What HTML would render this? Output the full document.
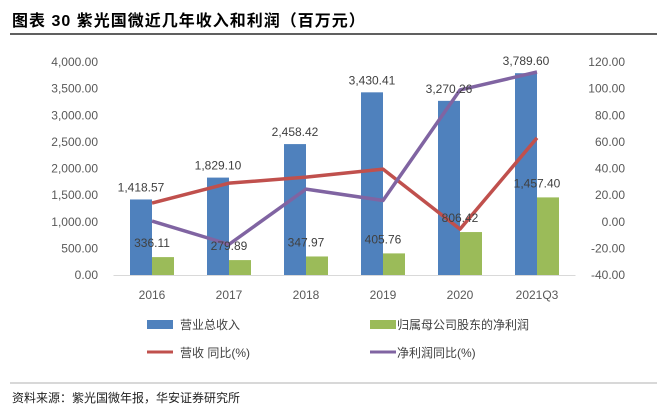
<!DOCTYPE html>
<html><head><meta charset="utf-8"><style>
body{margin:0;background:#fff;}
svg text{font-family:"Liberation Sans","Noto Sans CJK SC",sans-serif;}
</style></head><body>
<svg width="667" height="415" xmlns="http://www.w3.org/2000/svg" id="chart">
<text x="12" y="26" font-size="16" font-weight="bold" letter-spacing="1" fill="#000">图表 30  紫光国微近几年收入和利润（百万元）</text>
<line x1="10" y1="34" x2="657" y2="34" stroke="#000" stroke-width="1.2"/>
<g id="plot"></g>
<g>
<rect x="147" y="320" width="26" height="9" fill="#4f81bd"/>
<text x="180" y="329" font-size="12" fill="#404040">营业总收入</text>
<rect x="370" y="320" width="26" height="9" fill="#9bbb59"/>
<text x="397" y="329" font-size="12" fill="#404040">归属母公司股东的净利润</text>
<line x1="147" y1="352" x2="173" y2="352" stroke="#c0504d" stroke-width="3"/>
<text x="180" y="357" font-size="12" fill="#404040">营收 同比(%)</text>
<line x1="370" y1="352" x2="396" y2="352" stroke="#8064a2" stroke-width="3"/>
<text x="397" y="357" font-size="12" fill="#404040">净利润同比(%)</text>
</g>
<line x1="10" y1="383" x2="657" y2="383" stroke="#999" stroke-width="0.8"/>
<text x="12" y="402" font-size="12" fill="#222">资料来源：紫光国微年报，华安证券研究所</text>
</svg>
<script>
const categories=["2016","2017","2018","2019","2020","2021Q3"];
const revenue=[1418.57,1829.10,2458.42,3430.41,3270.26,3789.60];
const profit=[336.11,279.89,347.97,405.76,806.42,1457.40];
const revenueGrowth=[14,29,33.5,39.5,-5.5,63];
const profitGrowth=[0.5,-17,24.5,16,99,112.5];
const leftTicks=[0,500,1000,1500,2000,2500,3000,3500,4000];
const rightTicks=[-40,-20,0,20,40,60,80,100,120];

const NS="http://www.w3.org/2000/svg";
const g=document.getElementById('plot');
const X0=113.5,X1=575.5,YT=62,YB=275;
const step=(X1-X0)/categories.length;
const xc=i=>X0+step*(i+0.5);
const yL=v=>YB-(v-0)/4000*(YB-YT);
const yR=v=>YB-(v+40)/160*(YB-YT);
function mk(tag,attrs,text){const e=document.createElementNS(NS,tag);for(const k in attrs)e.setAttribute(k,attrs[k]);if(text!==undefined)e.textContent=text;g.appendChild(e);return e;}
const fmt=v=>v.toLocaleString('en-US',{minimumFractionDigits:2,maximumFractionDigits:2});

leftTicks.forEach(t=>{const e=mk('text',{x:98,y:yL(t)+4,'font-size':12,fill:'#595959','text-anchor':'end'},fmt(t));

});
rightTicks.forEach(t=>{const e=mk('text',{x:625,y:yR(t)+4,'font-size':12,fill:'#595959','text-anchor':'end'},t.toFixed(2));

});

const bw=22;
categories.forEach((c,i)=>{
  const cx=xc(i);
  const b=mk('rect',{x:cx-bw,y:yL(revenue[i]),width:bw,height:YB-yL(revenue[i]),fill:'#4f81bd'});
  
  
  const p=mk('rect',{x:cx,y:yL(profit[i]),width:bw,height:YB-yL(profit[i]),fill:'#9bbb59'});
  
  
  const xl=mk('text',{x:cx,y:299,'font-size':12,fill:'#595959','text-anchor':'middle'},c);
  
  
});
const ax=mk('line',{x1:X0,y1:YB+0.5,x2:X1,y2:YB+0.5,stroke:'#d9d9d9','stroke-width':1});



function line(vals,color,name){
  const pts=vals.map((v,i)=>xc(i)+','+yR(v)).join(' ');
  const l=mk('polyline',{points:pts,fill:'none',stroke:color,'stroke-width':3.5,'stroke-linejoin':'round'});
  
  
}
line(revenueGrowth,'#c0504d','line-revenue-growth');
line(profitGrowth,'#8064a2','line-profit-growth');

categories.forEach((c,i)=>{
  const cx=xc(i);
  const a=mk('text',{x:cx-bw/2,y:yL(revenue[i])-8,'font-size':12,fill:'#404040','text-anchor':'middle'},fmt(revenue[i]));
  
  
  const b=mk('text',{x:cx,y:yL(profit[i])-10,'font-size':12,fill:'#404040','text-anchor':'middle'},fmt(profit[i]));
  
  
});
</script>
</body></html>
